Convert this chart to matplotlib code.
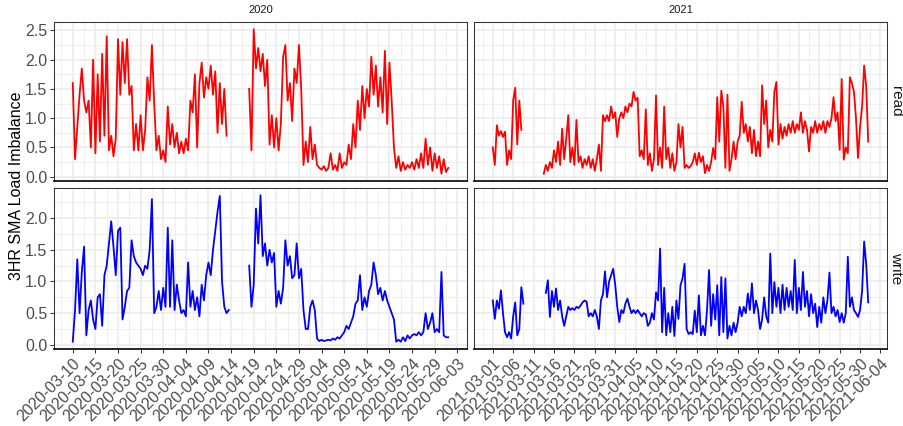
import numpy as np
import pandas as pd
import matplotlib
matplotlib.use('Agg')
import matplotlib.pyplot as plt
import matplotlib.dates as mdates
from matplotlib.ticker import MultipleLocator, FixedLocator

nan = np.nan

# 3HR SMA load imbalance, one value every 12 hours, NaN where no data
start_2020 = '2020-03-10'
start_2021 = '2021-03-01'

read_2020 = [1.60, 0.30, 0.85, 1.40, 1.85, 1.30, 1.10, 1.30, 0.50, 2.00,
             0.40, 1.75, 0.60, 2.10, 0.70, 2.40, 0.45, 0.70, 0.35, 0.65,
             2.35, 1.40, 2.30, 1.60, 2.35, 1.40, 1.55, 0.45, 0.90, 0.45,
             1.05, 0.45, 0.80, 1.70, 1.30, 2.25, 1.25, 0.45, 0.70, 0.30,
             0.45, 0.25, 1.20, 0.55, 0.90, 0.50, 0.75, 0.40, 0.60, 0.40,
             0.65, 0.45, 1.30, 1.10, 1.75, 0.50, 1.60, 1.95, 1.35, 1.70,
             1.50, 1.90, 1.40, 1.80, 0.75, 1.60, 0.90, 1.50, 0.70,
             nan, nan, nan, nan, nan, nan, nan, nan, nan,
             1.50, 0.45, 2.52, 1.85, 2.20, 1.80, 2.10, 1.55, 2.00, 0.55,
             1.05, 0.50, 1.00, 0.45, 0.90, 2.05, 2.25, 1.30, 1.60, 0.95,
             1.85, 1.60, 2.25, 1.50, 0.20, 0.60, 0.25, 0.85, 0.30, 0.55,
             0.20, 0.15, 0.12, 0.18, 0.10, 0.15, 0.40, 0.12, 0.20, 0.10,
             0.40, 0.15, 0.25, 0.20, 0.55, 0.30, 0.90, 0.50, 1.30, 0.80,
             1.55, 1.00, 1.50, 1.20, 2.05, 1.40, 1.90, 1.20, 1.70, 1.10,
             2.15, 0.90, 1.95, 1.30, 0.50, 0.15, 0.35, 0.10, 0.25, 0.12,
             0.20, 0.15, 0.25, 0.12, 0.30, 0.15, 0.40, 0.15, 0.65, 0.20,
             0.50, 0.10, 0.40, 0.15, 0.35, 0.05, 0.30, 0.08, 0.15]

write_2020 = [0.05, 0.55, 1.35, 0.50, 1.15, 1.55, 0.15, 0.55, 0.70, 0.40,
              0.25, 0.75, 0.80, 0.30, 1.10, 1.25, 1.60, 1.95, 1.55, 1.10,
              1.80, 1.85, 0.40, 0.60, 0.85, 0.90, 1.65, 1.40, 1.30, 1.25,
              1.20, 1.10, 1.25, 1.20, 1.50, 2.30, 0.50, 0.60, 0.85, 0.55,
              0.90, 0.60, 1.85, 0.60, 1.65, 0.55, 0.95, 0.70, 0.50, 0.55,
              0.45, 1.30, 0.60, 0.85, 0.55, 0.75, 0.45, 0.95, 0.70, 1.10,
              1.30, 1.10, 1.50, 1.80, 2.10, 2.35, 1.00, 0.60, 0.50, 0.55,
              nan, nan, nan, nan, nan, nan, nan, nan,
              1.25, 0.60, 0.95, 2.15, 1.60, 2.36, 1.40, 1.60, 1.25, 1.50,
              1.30, 1.45, 0.60, 0.85, 0.65, 0.90, 1.65, 1.25, 1.40, 1.05,
              1.10, 1.60, 1.05, 1.20, 0.55, 0.25, 0.25, 0.60, 0.70, 0.55,
              0.10, 0.06, 0.08, 0.06, 0.07, 0.08, 0.07, 0.10, 0.08, 0.12,
              0.10, 0.15, 0.20, 0.30, 0.25, 0.35, 0.45, 0.65, 0.70, 1.10,
              0.55, 0.75, 0.60, 0.85, 0.95, 1.30, 1.10, 0.80, 0.90, 0.70,
              0.85, 0.70, 0.60, 0.50, 0.40, 0.05, 0.08, 0.05, 0.12, 0.06,
              0.15, 0.10, 0.15, 0.17, 0.15, 0.20, 0.15, 0.20, 0.50, 0.25,
              0.35, 0.50, 0.20, 0.25, 0.20, 1.15, 0.15, 0.12, 0.12]

read_2021 = [0.50, 0.20, 0.88, 0.70, 0.78, 0.68, 0.77, 0.20, 0.45, 0.30,
             1.30, 1.52, 0.55, 1.30, 0.80,
             nan, nan, nan, nan, nan, nan, nan, nan, nan, nan,
             0.05, 0.20, 0.10, 0.25, 0.15, 0.45, 0.25, 0.60, 0.20, 0.82,
             0.30, 0.65, 1.05, 0.25, 0.50, 0.20, 0.97, 0.25, 0.35, 0.15,
             0.30, 0.20, 0.35, 0.15, 0.30, 0.10, 0.30, 0.55, 0.10, 1.05,
             0.95, 1.05, 0.95, 1.20, 1.00, 1.10, 0.68, 1.00, 1.10, 1.00,
             1.20, 1.10, 1.25, 1.20, 1.45, 1.30, 1.35, 0.35, 0.45, 0.30,
             1.15, 0.20, 0.40, 0.10, 0.30, 1.39, 0.20, 0.50, 0.15, 1.20,
             0.30, 0.50, 0.15, 0.40, 0.10, 0.25, 0.90, 0.50, 0.85, 0.15,
             0.20, 0.15, 0.18, 0.25, 0.40, 0.20, 0.41, 0.25, 0.35, 0.06,
             0.20, 0.10, 0.25, 0.49, 0.30, 1.36, 0.60, 1.47, 1.20, 0.15,
             1.40, 0.10, 0.30, 0.60, 0.30, 0.60, 0.70, 1.28, 0.75, 0.90,
             0.60, 0.85, 0.40, 0.80, 0.35, 0.60, 0.35, 1.56, 0.90, 1.30,
             0.50, 0.80, 0.60, 1.45, 1.62, 0.55, 0.90, 0.65, 0.85, 0.70,
             0.90, 0.75, 0.95, 0.75, 0.90, 0.80, 1.10, 0.75, 0.95, 0.80,
             0.43, 0.85, 0.75, 0.95, 0.75, 0.90, 0.80, 0.95, 0.75, 0.95,
             0.85, 1.00, 1.36, 0.95, 1.10, 0.46, 1.67, 0.29, 0.50, 0.40,
             1.70, 1.60, 1.45, 1.00, 0.32, 0.85, 1.20, 1.90, 1.55, 0.60]

write_2021 = [0.70, 0.41, 0.70, 0.57, 0.86, 0.50, 0.20, 0.12, 0.20, 0.10,
              0.45, 0.67, 0.15, 0.25, 0.91, 0.65,
              nan, nan, nan, nan, nan, nan, nan, nan, nan, nan,
              0.82, 1.02, 0.44, 0.85, 0.60, 0.89, 0.55, 0.70, 0.45, 0.30,
              0.45, 0.60, 0.55, 0.58, 0.55, 0.60, 0.58, 0.62, 0.67, 0.70,
              0.68, 0.45, 0.50, 0.45, 0.55, 0.45, 0.25, 0.70, 0.80, 1.16,
              0.75, 1.00, 1.10, 1.20, 0.95, 0.60, 0.36, 0.55, 0.50, 0.65,
              0.73, 0.60, 0.50, 0.55, 0.50, 0.55, 0.50, 0.45, 0.50, 0.48,
              0.30, 0.35, 0.50, 0.40, 0.83, 0.70, 1.52, 0.20, 0.90, 0.15,
              0.50, 0.20, 0.60, 0.14, 0.70, 0.41, 0.94, 1.05, 1.28, 0.25,
              0.17, 0.20, 0.17, 0.54, 0.20, 0.78, 0.15, 0.30, 0.15, 0.55,
              1.18, 0.30, 0.80, 0.40, 0.94, 0.15, 1.07, 0.20, 1.05, 0.10,
              0.30, 0.15, 0.35, 0.20, 0.35, 0.60, 0.45, 0.60, 0.50, 0.81,
              0.55, 0.97, 0.50, 0.70, 0.55, 0.25, 0.40, 0.75, 0.45, 0.35,
              1.44, 0.50, 0.99, 0.60, 0.90, 0.50, 0.95, 0.55, 0.90, 0.60,
              0.85, 0.55, 1.34, 0.50, 0.90, 0.55, 1.15, 0.60, 0.85, 0.45,
              0.80, 0.50, 0.65, 0.28, 0.60, 0.35, 0.75, 0.50, 0.70, 1.14,
              0.50, 0.60, 0.45, 0.55, 0.36, 0.50, 0.35, 0.50, 1.39, 0.60,
              0.75, 0.55, 0.50, 0.44, 0.55, 0.85, 1.63, 1.28, 0.67]

years = ['2020', '2021']
kinds = ['read', 'write']
colors = {'read': '#FF0000', 'write': '#0000FF'}
data = {('2020', 'read'): (start_2020, read_2020),
        ('2020', 'write'): (start_2020, write_2020),
        ('2021', 'read'): (start_2021, read_2021),
        ('2021', 'write'): (start_2021, write_2021)}

plt.rcParams['font.family'] = ['Liberation Sans', 'DejaVu Sans']

W, H = 904, 426
fig = plt.figure(figsize=(W / 100, H / 100), dpi=100)

# panel boxes in pixels: left, top, right, bottom
cols = {'2020': (54, 467), '2021': (474, 887)}
rows = {'read': (22, 181), 'write': (188, 349)}


def expand(lo, hi, f=0.05):
    d = (hi - lo) * f
    return lo - d, hi + d


row_lim = {}
for k in kinds:
    vals = np.concatenate([np.array(data[(y, k)][1], dtype=float) for y in years])
    row_lim[k] = expand(np.nanmin(vals), np.nanmax(vals))

for k in kinds:
    for y in years:
        x0, x1 = cols[y]
        t0, t1 = rows[k]
        ax = fig.add_axes([x0 / W, 1 - t1 / H, (x1 - x0) / W, (t1 - t0) / H])
        start, vals = data[(y, k)]
        times = pd.date_range(start, periods=len(vals), freq='12h')
        tnum = mdates.date2num(times.to_pydatetime())
        ax.plot(tnum, vals, color=colors[k], lw=1.3)

        ax.set_xlim(*expand(tnum[0], tnum[-1]))
        ax.set_ylim(*row_lim[k])

        # x breaks every 5 days, minor halfway between
        majors = mdates.date2num(pd.date_range(start, periods=20, freq='5D').to_pydatetime())
        lo, hi = ax.get_xlim()
        majors = [m for m in majors if lo <= m <= hi]
        minors = [m - 2.5 for m in majors] + [majors[-1] + 2.5]
        minors = [m for m in minors if lo <= m <= hi]
        ax.xaxis.set_major_locator(FixedLocator(majors))
        ax.xaxis.set_minor_locator(FixedLocator(minors))
        ax.yaxis.set_major_locator(MultipleLocator(0.5))
        ax.yaxis.set_minor_locator(MultipleLocator(0.25))

        ax.set_facecolor('white')
        ax.grid(which='major', color='#EBEBEB', lw=1.1)
        ax.grid(which='minor', color='#EBEBEB', lw=0.55)
        ax.set_axisbelow(True)

        for s in ['left', 'top', 'right']:
            ax.spines[s].set_color('#333333')
            ax.spines[s].set_linewidth(0.75)
        ax.spines['bottom'].set_color('black')
        ax.spines['bottom'].set_linewidth(1.2)

        ax.tick_params(which='minor', length=0)
        ax.tick_params(which='major', length=2.7, width=0.75, color='#333333',
                       labelsize=11.5, labelcolor='#4D4D4D', pad=2)

        if k == 'write':
            labels = [mdates.num2date(m).strftime('%Y-%m-%d') for m in majors]
            ax.set_xticklabels(labels, rotation=45, ha='right', va='top',
                               rotation_mode='anchor')
        else:
            ax.tick_params(axis='x', length=0, labelbottom=False)
        if y == '2020':
            ax.yaxis.set_major_formatter(matplotlib.ticker.FormatStrFormatter('%.1f'))
        else:
            ax.tick_params(axis='y', length=0, labelleft=False)

        if k == 'read':
            ax.text(0.5, 1 + 12 / (t1 - t0), y, transform=ax.transAxes,
                    ha='center', va='center', fontsize=8, color='#1A1A1A')
        if y == '2021':
            ax.text(1 + 9 / (x1 - x0), 0.5, k, transform=ax.transAxes,
                    ha='center', va='center', rotation=270, fontsize=11,
                    color='#1A1A1A')

fig.text(17 / W, 1 - 185.5 / H, '3HR SMA Load Imbalance', rotation=90,
         ha='center', va='center', fontsize=11.5, color='black')

fig.savefig('out.png', dpi=100)
